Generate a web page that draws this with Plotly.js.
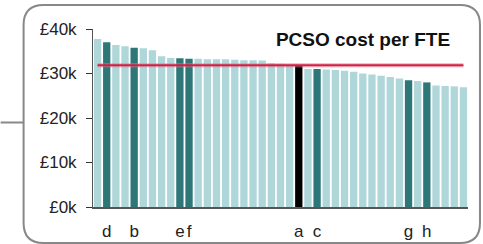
<!DOCTYPE html>
<html>
<head>
<meta charset="utf-8">
<script src="https://cdn.plot.ly/plotly-3.0.1.min.js"></script>
<style>
html,body{margin:0;padding:0;background:#fff;}
#chart{width:483px;height:244px;}
</style>
</head>
<body>
<div id="chart"></div>
<script>
// Data (values in £k)
const costValues = [37.75, 37.0, 36.4, 36.1, 35.8, 35.7, 35.2, 33.9, 33.5, 33.4,
                    33.3, 33.3, 33.2, 33.2, 33.2, 33.1, 33.0, 33.0, 32.9, 32.3,
                    32.2, 31.9, 31.7, 31.0, 31.0, 30.9, 30.8, 30.6, 30.4, 30.0,
                    29.8, 29.5, 29.2, 28.9, 28.5, 28.3, 28.0, 27.3, 27.2, 27.1, 26.9];
// highlight type per bar: 0 = other force, 1 = comparator, 2 = this force
const highlight = [0,1,0,0,1,0,0,0,0,1,
                   1,0,0,0,0,0,0,0,0,0,
                   0,0,2,0,1,0,0,0,0,0,
                   0,0,0,0,1,0,1,0,0,0,0];
const labelPositions = [1, 4, 9, 10, 22, 24, 34, 36];
const labelTexts = ['d', 'b', 'e', 'f', 'a', 'c', 'g', 'h'];
const averageCost = 31.85;
const yTickVals = [0, 10, 20, 30, 40];
const yTickText = ['£0k', '£10k', '£20k', '£30k', '£40k'];
const chartTitle = 'PCSO cost per FTE';

const W = 483, H = 244;
const M = {l: 92.5, r: 15, t: 29, b: 37};
const pw = W - M.l - M.r, ph = H - M.t - M.b;
const px = v => (v - M.l) / pw;
const py = v => (H - M.b - v) / ph;

const palette = ['#afd6d9', '#2e7778', '#000000'];
const idx = costValues.map((_, i) => i);

const bars = {
  type: 'bar',
  x: idx,
  y: costValues,
  marker: {color: highlight.map(h => palette[h]), line: {width: 0}},
  hoverinfo: 'skip'
};
const avgHalo = {
  type: 'scatter', mode: 'lines',
  x: [0, 40], y: [averageCost, averageCost],
  line: {color: 'rgba(230,120,140,0.45)', width: 4.5},
  hoverinfo: 'skip'
};
const avgLine = {
  type: 'scatter', mode: 'lines',
  x: [0, 40], y: [averageCost, averageCost],
  line: {color: '#d21f46', width: 2},
  hoverinfo: 'skip'
};

// rounded border box (pixel geometry converted to paper coordinates)
const bx0 = 23, by0 = 5, bx1 = 480, by1 = 243, rad = 20;
const P = (x, y) => px(x).toFixed(5) + ',' + py(y).toFixed(5);
const boxPath = 'M' + P(bx0 + rad, by0) + ' L' + P(bx1 - rad, by0) +
  ' Q' + P(bx1, by0) + ' ' + P(bx1, by0 + rad) +
  ' L' + P(bx1, by1 - rad) +
  ' Q' + P(bx1, by1) + ' ' + P(bx1 - rad, by1) +
  ' L' + P(bx0 + rad, by1) +
  ' Q' + P(bx0, by1) + ' ' + P(bx0, by1 - rad) +
  ' L' + P(bx0, by0 + rad) +
  ' Q' + P(bx0, by0) + ' ' + P(bx0 + rad, by0) + ' Z';

const font = 'Liberation Sans, Arial, sans-serif';

const layout = {
  width: W, height: H,
  margin: M,
  paper_bgcolor: '#fff', plot_bgcolor: '#fff',
  showlegend: false,
  bargap: 0.2,
  font: {family: font, color: '#222'},
  title: {
    text: '<b>' + chartTitle + '</b>',
    font: {family: font, size: 19, color: '#111'},
    xref: 'container', yref: 'container',
    x: 363 / W, y: 1 - 39.5 / H, xanchor: 'center', yanchor: 'middle'
  },
  xaxis: {
    range: [-0.5, 40.5],
    tickmode: 'array', tickvals: labelPositions, ticktext: labelTexts,
    ticks: '', showgrid: false, zeroline: false, tickangle: 0,
    showline: true, linecolor: '#555', linewidth: 1.5,
    tickfont: {family: font, size: 17, color: '#222'},
    ticklabelstandoff: 8,
    fixedrange: true
  },
  yaxis: {
    range: [0, 40],
    tickmode: 'array', tickvals: yTickVals, ticktext: yTickText,
    ticks: 'outside', ticklen: 6, tickcolor: '#333', tickwidth: 1,
    showgrid: false, zeroline: false,
    showline: true, linecolor: '#555', linewidth: 1,
    tickfont: {family: font, size: 17, color: '#222'},
    ticklabelstandoff: 6,
    fixedrange: true
  },
  shapes: [
    {type: 'path', xref: 'paper', yref: 'paper', path: boxPath,
     line: {color: '#888', width: 2}, fillcolor: 'rgba(0,0,0,0)', layer: 'below'},
    {type: 'line', xref: 'paper', yref: 'paper',
     x0: px(0), x1: px(bx0), y0: py(122.5), y1: py(122.5),
     line: {color: '#888', width: 2}}
  ]
};

Plotly.newPlot('chart', [bars, avgHalo, avgLine], layout, {displayModeBar: false, staticPlot: true});
</script>
</body>
</html>
